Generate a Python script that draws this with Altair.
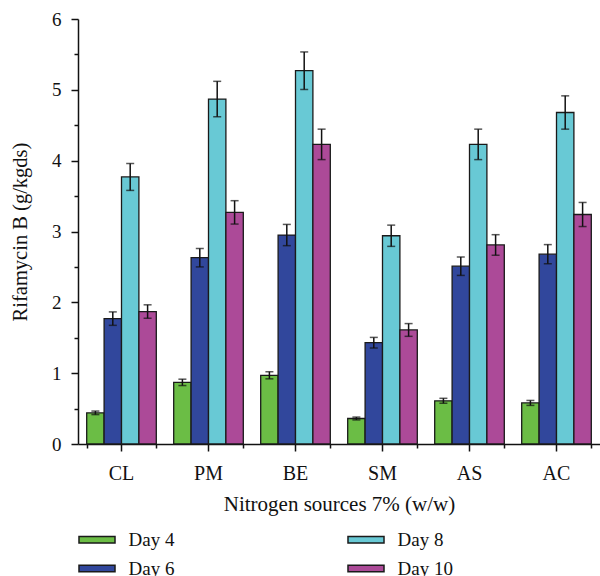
import altair as alt
import pandas as pd

categories = ["CL", "PM", "BE", "SM", "AS", "AC"]
days = ["Day 4", "Day 6", "Day 8", "Day 10"]

day4 = [0.44, 0.87, 0.97, 0.36, 0.61, 0.58]
day6 = [1.77, 2.63, 2.95, 1.43, 2.51, 2.68]
day8 = [3.77, 4.87, 5.27, 2.94, 4.23, 4.68]
day10 = [1.87, 3.27, 4.23, 1.61, 2.81, 3.24]

err4 = [0.025, 0.045, 0.05, 0.02, 0.035, 0.035]
err6 = [0.095, 0.13, 0.15, 0.075, 0.13, 0.135]
err8 = [0.19, 0.25, 0.265, 0.15, 0.215, 0.235]
err10 = [0.095, 0.165, 0.215, 0.09, 0.145, 0.17]

colors = ["#6BBD45", "#31479C", "#68C9D5", "#AC4A98"]

rows = []
for d, vals, errs in zip(days, [day4, day6, day8, day10], [err4, err6, err8, err10]):
    for c, v, e in zip(categories, vals, errs):
        rows.append({"cat": c, "day": d, "value": v, "low": v - e, "high": v + e})
df = pd.DataFrame(rows)

FONT = "Liberation Serif"

y_axis = alt.Axis(
    values=[i * 0.5 for i in range(13)],
    labelExpr="datum.value % 1 === 0 ? format(datum.value, 'd') : ''",
    tickSize={"condition": {"test": "datum.value % 1 === 0", "value": 7}, "value": 4},
    grid=False,
    domainColor="#111111",
    domainWidth=1.5,
    tickColor="#111111",
    tickWidth=1.5,
    labelFont=FONT,
    labelFontSize=19,
    labelColor="#111111",
    labelPadding=10,
    title="Rifamycin B (g/kgds)",
    titleFont=FONT,
    titleFontSize=20.5,
    titleFontWeight="normal",
    titleColor="#111111",
    titlePadding=21,
)
y_scale = alt.Scale(domain=[0, 6], nice=False)
x_scale = alt.Scale(paddingInner=0.2, paddingOuter=0.1)

x_main = alt.X(
    "cat:N",
    sort=categories,
    scale=x_scale,
    axis=alt.Axis(
        orient="bottom",
        labelAngle=0,
        tickSize=7,
        tickWidth=1.5,
        tickColor="#111111",
        domainColor="#111111",
        domainWidth=1.5,
        labelFont=FONT,
        labelFontSize=20,
        labelColor="#111111",
        labelPadding=12,
        title="Nitrogen sources 7% (w/w)",
        titleFont=FONT,
        titleFontSize=21,
        titleFontWeight="normal",
        titleColor="#111111",
        titlePadding=10,
    ),
)
x_none = alt.X("cat:N", sort=categories, scale=x_scale, axis=None)
x_bound = alt.X(
    "cat:N",
    sort=categories,
    scale=x_scale,
    axis=alt.Axis(
        orient="bottom",
        tickBand="extent",
        labels=False,
        domain=False,
        tickSize=4,
        tickWidth=1.5,
        tickColor="#111111",
        title=None,
    ),
)
xoff = alt.XOffset("day:N", sort=days)

bars = alt.Chart(df).mark_bar(stroke="#1a1a1a", strokeWidth=1.3).encode(
    x=x_main,
    xOffset=xoff,
    y=alt.Y("value:Q", scale=y_scale, axis=y_axis),
    color=alt.Color(
        "day:N",
        sort=days,
        scale=alt.Scale(domain=days, range=colors),
        legend=alt.Legend(
            orient="none",
            legendX=9.5,
            legendY=511,
            columns=2,
            columnPadding=170,
            rowPadding=9,
            title=None,
            symbolType="M-2.77,-0.5H2.77V0.5H-2.77Z",
            symbolSize=169,
            symbolStrokeWidth=1.5,
            symbolStrokeColor="#1a1a1a",
            symbolOpacity=1,
            labelFont=FONT,
            labelFontSize=19,
            labelColor="#111111",
            labelOffset=22,
        ),
    ),
)

rules = alt.Chart(df).mark_rule(color="#111111", strokeWidth=1.5).encode(
    x=x_none,
    xOffset=xoff,
    y=alt.Y("low:Q", scale=y_scale, axis=y_axis),
    y2="high:Q",
)
caps_low = alt.Chart(df).mark_tick(color="#111111", size=8, thickness=1.5).encode(
    x=x_none,
    xOffset=xoff,
    y=alt.Y("low:Q", scale=y_scale, axis=y_axis),
)
caps_high = alt.Chart(df).mark_tick(color="#111111", size=8, thickness=1.5).encode(
    x=x_none,
    xOffset=xoff,
    y=alt.Y("high:Q", scale=y_scale, axis=y_axis),
)
bounds = alt.Chart(df).mark_tick(opacity=0).encode(
    x=x_bound,
    y=alt.Y("value:Q", scale=y_scale, axis=y_axis),
)

chart = (
    alt.layer(bars, rules, caps_low, caps_high, bounds)
    .resolve_axis(x="independent")
    .properties(
        width=522,
        height=425,
        padding={"left": 78, "top": 19, "right": 0, "bottom": 132},
        autosize=alt.AutoSizeParams(type="none"),
        background="white",
    )
    .configure_view(stroke=None)
)

chart.save("out.html", embed_options={"renderer": "svg", "actions": False})
